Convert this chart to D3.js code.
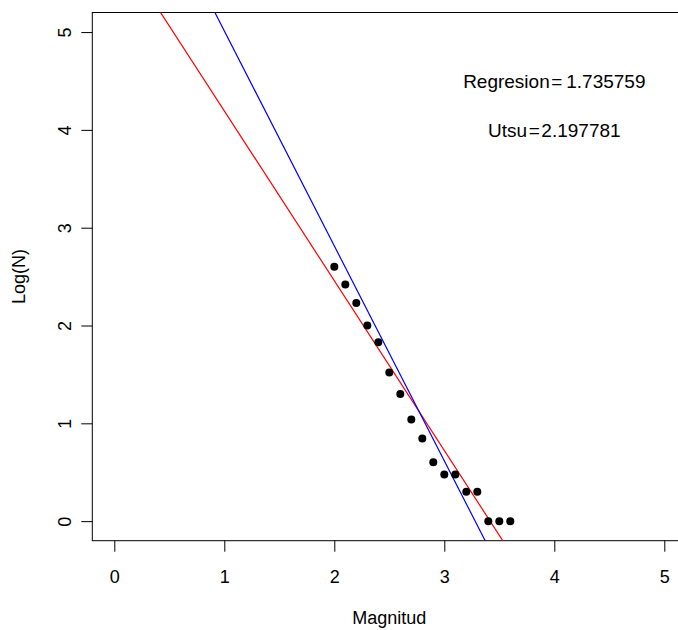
<!DOCTYPE html>
<html>
<head>
<meta charset="utf-8">
<script src="https://cdn.jsdelivr.net/npm/d3@7"></script>
<style>
  body { margin: 0; background: white; }
  text { font-family: "Liberation Sans", Arial, sans-serif; }
</style>
</head>
<body>
<svg id="grafico"></svg>
<script>
// datos: magnitud y log10 del numero acumulado
const magnitudes = [2.0, 2.1, 2.2, 2.3, 2.4, 2.5, 2.6, 2.7, 2.8, 2.9, 3.0, 3.1, 3.2, 3.3, 3.4, 3.5, 3.6]
const logN = [2.60, 2.42, 2.23, 2.0, 1.83, 1.52, 1.30, 1.04, 0.845, 0.602, 0.477, 0.477, 0.301, 0.301, 0, 0, 0]

// rectas: a - b*x
const recta_regresion = { a: 5.93, b: 1.735759, color: "red" }
const recta_utsu = { a: 7.21, b: 2.197781, color: "blue" }

const ticks_x = [0, 1, 2, 3, 4, 5]
const ticks_y = [0, 1, 2, 3, 4, 5]

const etiquetas = [
  { x: 4, y: 4.5, texto: "Regresion\u200a=\u20091.735759" },
  { x: 4, y: 4.0, texto: "Utsu\u200a=\u200a2.197781" }
]

const ancho = 678
const alto = 630
const izq = 92.3, der = 686.3, arriba = 12.5, abajo = 540.7
const tam_letra = 18
const tam_texto = 19

const svg = d3.select("#grafico")
  .attr("width", ancho)
  .attr("height", alto)

const x = d3.scaleLinear().domain([-0.2, 5.2]).range([izq, der])
const y = d3.scaleLinear().domain([-0.2, 5.2]).range([abajo, arriba])

// recorte para que las rectas no salgan de la caja
svg.append("clipPath").attr("id", "recorte")
  .append("rect")
  .attr("x", izq).attr("y", arriba)
  .attr("width", der - izq).attr("height", abajo - arriba)

// eje x
const ejeX = svg.append("g")
  .attr("transform", `translate(0,${abajo})`)
  .call(d3.axisBottom(x).tickValues(ticks_x).tickSize(11).tickPadding(19).tickFormat(d3.format("d")))
ejeX.select(".domain").remove()
ejeX.selectAll("line").attr("stroke", "black")
ejeX.selectAll("text").attr("font-size", tam_letra).attr("fill", "black")
  .attr("font-family", "Liberation Sans, Arial, sans-serif")

// eje y (etiquetas giradas como en R)
const ejeY = svg.append("g")
  .attr("transform", `translate(${izq},0)`)
  .call(d3.axisLeft(y).tickValues(ticks_y).tickSize(11).tickFormat(d3.format("d")))
ejeY.select(".domain").remove()
ejeY.selectAll("line").attr("stroke", "black")
ejeY.selectAll("text")
  .attr("x", null).attr("dy", null)
  .attr("text-anchor", "middle")
  .attr("transform", "translate(-21,0) rotate(-90)")
  .attr("font-size", tam_letra).attr("fill", "black")
  .attr("font-family", "Liberation Sans, Arial, sans-serif")

// caja
svg.append("rect")
  .attr("x", izq).attr("y", arriba)
  .attr("width", der - izq).attr("height", abajo - arriba)
  .attr("fill", "none").attr("stroke", "black").attr("stroke-width", 1)

// rectas
const capa = svg.append("g").attr("clip-path", "url(#recorte)")
for (const r of [recta_regresion, recta_utsu]) {
  capa.append("line")
    .attr("x1", x(-0.2)).attr("y1", y(r.a - r.b * -0.2))
    .attr("x2", x(5.2)).attr("y2", y(r.a - r.b * 5.2))
    .attr("stroke", r.color).attr("stroke-width", 1.2)
}

// puntos
svg.append("g").selectAll("circle")
  .data(magnitudes)
  .join("circle")
  .attr("cx", d => x(d))
  .attr("cy", (d, i) => y(logN[i]))
  .attr("r", 4)
  .attr("fill", "black")

// textos de los valores b
svg.append("g").selectAll("text")
  .data(etiquetas)
  .join("text")
  .attr("x", d => x(d.x))
  .attr("y", d => y(d.y))
  .attr("dy", "0.35em")
  .attr("text-anchor", "middle")
  .attr("font-size", tam_texto)
  .text(d => d.texto)

// titulos de ejes
svg.append("text")
  .attr("x", (izq + der) / 2).attr("y", 624)
  .attr("text-anchor", "middle").attr("font-size", tam_letra)
  .text("Magnitud")

svg.append("text")
  .attr("transform", `translate(25,${(arriba + abajo) / 2}) rotate(-90)`)
  .attr("text-anchor", "middle").attr("font-size", tam_letra)
  .text("Log(N)")
</script>
</body>
</html>
